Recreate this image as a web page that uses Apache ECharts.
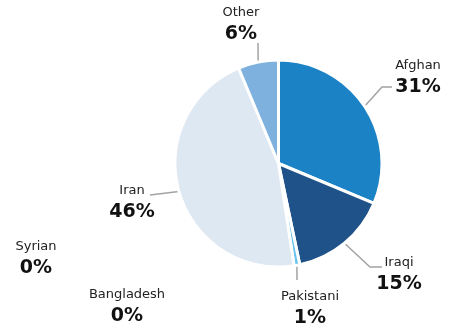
<!DOCTYPE html>
<html>
<head>
<meta charset="utf-8">
<script src="https://cdn.jsdelivr.net/npm/echarts@6/dist/echarts.min.js"></script>
<style>
  html, body { margin: 0; padding: 0; background: #fff; }
  #chart { width: 453px; height: 329px; }
</style>
</head>
<body>
<div id="chart"></div>
<script>
// data, clockwise from 12 o'clock
const categories = ["Afghan", "Iraqi", "Pakistani", "Syrian", "Bangladesh", "Iran", "Other"];
const shares = [31.3, 15.4, 0.9, 0, 0, 46.1, 6.3];

// styling
const sliceColors = ["#1b83c5", "#1f5289", "#6cc4ee", "#4a90c8", "#4a90c8", "#dee8f2", "#7eb1de"];

// label block centres and leader line bends (layout only)
const labelSpots = {
  Afghan: { x: 418, y: 78, line: [[382, 87], [392, 87]] },
  Iraqi: { x: 399, y: 275, line: [[370, 267], [382, 267]] },
  Pakistani: { x: 310, y: 309, line: [[297, 280], [297, 280]] },
  Syrian: { x: 36, y: 259, line: null },
  Bangladesh: { x: 127, y: 307, line: null },
  Iran: { x: 132, y: 203, line: [[150, 195], [150, 195]] },
  Other: { x: 241, y: 25, line: [[258, 43], [258, 43]] },
};

const font = "DejaVu Sans";
let myChart = echarts.init(document.getElementById("chart"));

myChart.setOption({
  animation: false,
  series: [
    {
      type: "pie",
      center: [278.5, 163.5],
      radius: 103.5,
      startAngle: 90,
      clockwise: true,
      minAngle: 0,
      avoidLabelOverlap: false,
      emphasis: { disabled: true },
      itemStyle: {
        borderColor: "#fff",
        borderWidth: 3,
      },
      label: {
        show: true,
        position: "outside",
        formatter: (p) => "{n|" + p.name + "}\n{p|" + Math.round(p.percent) + "%}",
        rich: {
          n: { fontFamily: font, fontSize: 13, color: "#222", lineHeight: 18, align: "center" },
          p: { fontFamily: font, fontSize: 19, fontWeight: "bold", color: "#111", lineHeight: 24, align: "center" },
        },
      },
      labelLine: {
        show: true,
        lineStyle: { color: "#a3a3a3", width: 1.5 },
      },
      labelLayout: (params) => {
        let spot = labelSpots[categories[params.dataIndex]];
        let out = { x: spot.x, y: spot.y, align: "center", verticalAlign: "middle" };
        if (spot.line && params.labelLinePoints) {
          out.labelLinePoints = [params.labelLinePoints[0], spot.line[0], spot.line[1]];
        }
        return out;
      },
      data: categories.map((name, i) => ({
        name: name,
        value: shares[i],
        itemStyle: { color: sliceColors[i], borderWidth: shares[i] === 0 ? 0 : 3 },
        labelLine: { show: labelSpots[name].line !== null },
      })),
    },
  ],
});
</script>
</body>
</html>
